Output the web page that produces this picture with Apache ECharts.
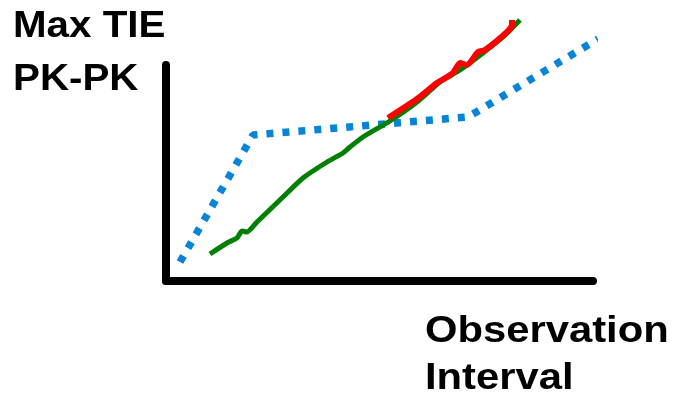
<!DOCTYPE html>
<html>
<head>
<meta charset="utf-8">
<script src="https://cdn.jsdelivr.net/npm/echarts@6/dist/echarts.min.js"></script>
<style>html,body{margin:0;padding:0;background:#fff}#c{width:676px;height:401px}</style>
</head>
<body>
<div id="c"></div>
<script>
// Data (arbitrary units: x = observation interval, y = max TIE pk-pk)
const blueX = [14, 87, 302, 432];
const blueY = [19, 146, 164, 242];
const greenX = [44, 61, 71, 76, 81, 91, 117, 137, 161, 177, 184, 197, 224, 251, 274, 294, 317, 337, 354];
const greenY = [27, 38, 43, 50, 49, 59, 84, 103, 119, 128, 134, 144, 160, 179, 199, 211, 228, 244, 261];
const redX = [222, 251, 271, 287, 294, 301, 312, 319, 341, 346, 346];
const redY = [163, 182, 198, 208, 218, 216, 229, 231, 249, 256, 261];
const yTitle = ['Max TIE', 'PK-PK'];
const xTitle = ['Observation', 'Interval'];

const zip = (xs, ys) => xs.map((x, i) => [x, ys[i]]);
const font = 'bold 36px "Liberation Sans", Arial, sans-serif';
const chart = echarts.init(document.getElementById('c'), null, {renderer: 'canvas'});
chart.setOption({
  animation: false,
  backgroundColor: '#fff',
  grid: {left: 166, right: 83, top: 65, bottom: 120},
  xAxis: {
    type: 'value', min: 0, max: 427,
    axisLine: {show: true, lineStyle: {color: '#000', width: 8}},
    axisTick: {show: false}, axisLabel: {show: false}, splitLine: {show: false}
  },
  yAxis: {
    type: 'value', min: 0, max: 216,
    axisLine: {show: true, lineStyle: {color: '#000', width: 8}},
    axisTick: {show: false}, axisLabel: {show: false}, splitLine: {show: false}
  },
  graphic: [
    {type: 'text', x: 13, y: 9, scaleX: 1.12, style: {text: yTitle[0], font: font, fill: '#000', textVerticalAlign: 'top'}},
    {type: 'text', x: 13, y: 62, scaleX: 1.12, style: {text: yTitle[1], font: font, fill: '#000', textVerticalAlign: 'top'}},
    {type: 'text', x: 425, y: 314, scaleX: 1.16, style: {text: xTitle[0], font: font, fill: '#000', textVerticalAlign: 'top'}},
    {type: 'text', x: 425, y: 361, scaleX: 1.16, style: {text: xTitle[1], font: font, fill: '#000', textVerticalAlign: 'top'}}
  ],
  series: [
    {type: 'line', data: zip(blueX, blueY), showSymbol: false, clip: false,
     lineStyle: {color: '#0884d6', width: 7.5, type: [7, 9]}},
    {type: 'line', data: zip(greenX, greenY), showSymbol: false, clip: false, smooth: 0.2,
     lineStyle: {color: '#008000', width: 5}},
    {type: 'line', data: zip(redX, redY), showSymbol: false, clip: false, smooth: 0.2,
     lineStyle: {color: '#ff0000', width: 6}}
  ]
});
</script>
</body>
</html>
